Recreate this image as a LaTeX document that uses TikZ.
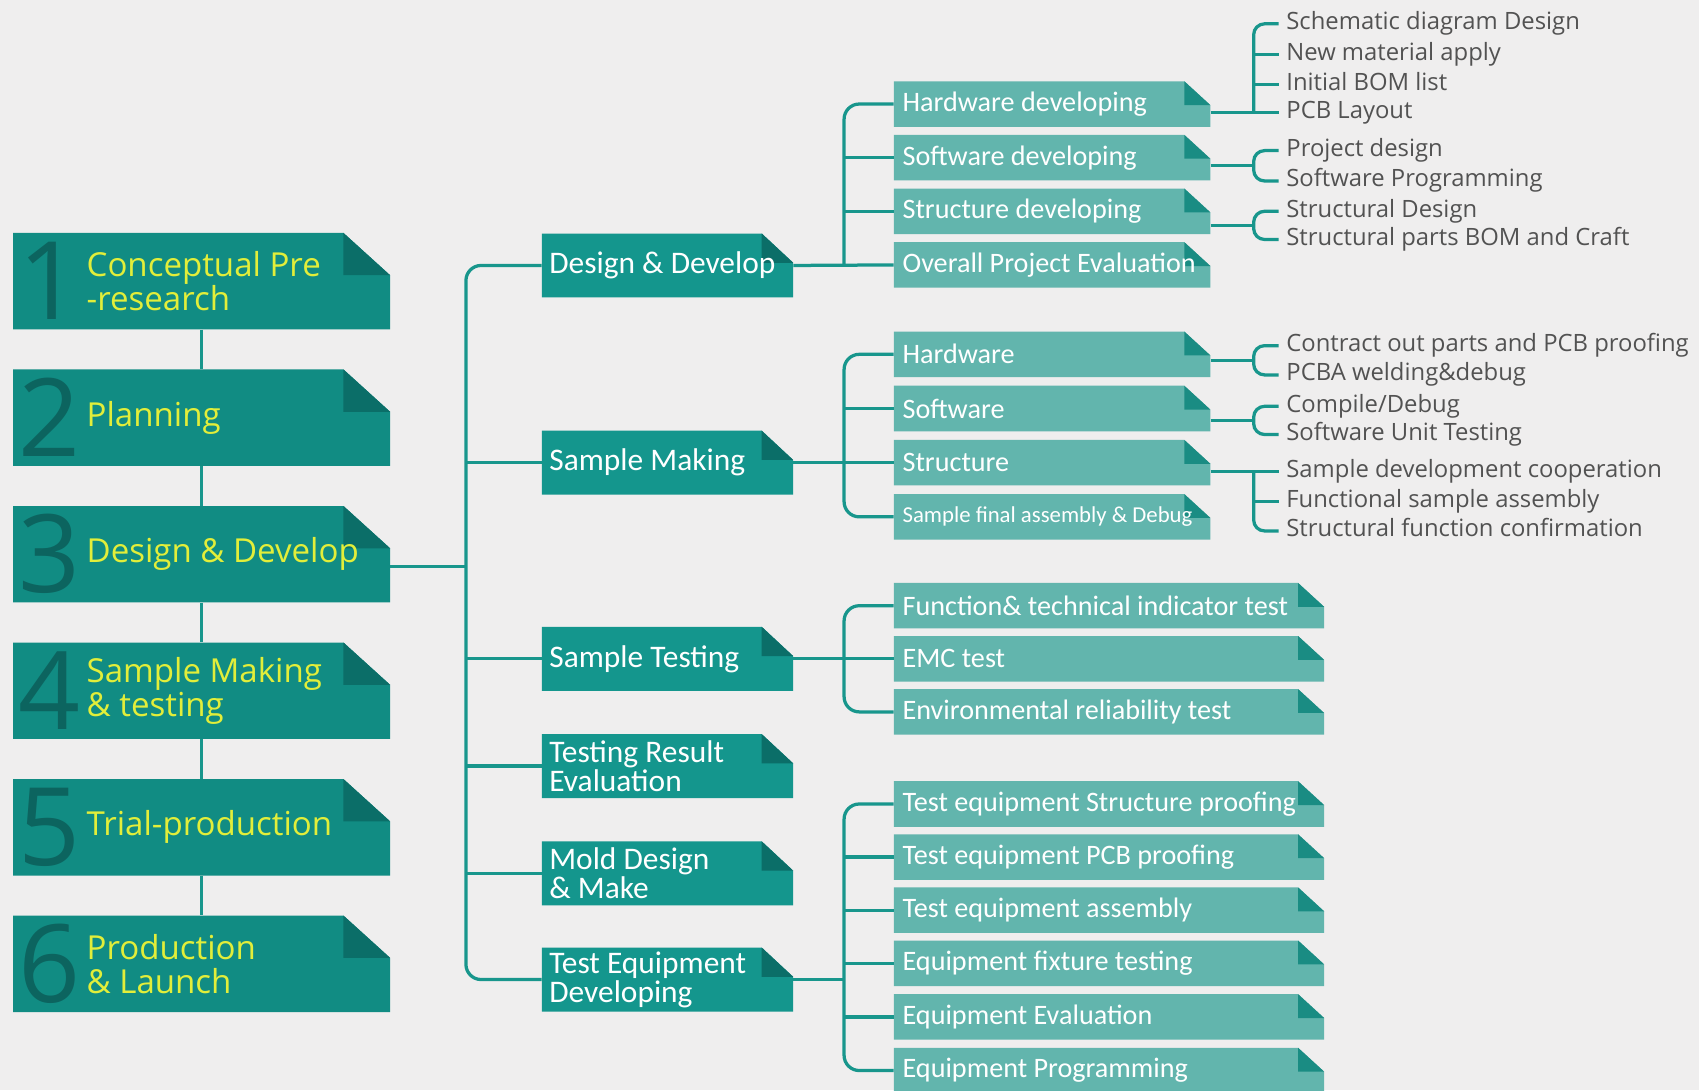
\documentclass[tikz,border=0pt]{standalone}
\usepackage{fontspec}
\setmainfont{Open Sans}
\newfontfamily\boxfont{Carlito}
\usetikzlibrary{calc}

\definecolor{paper}{RGB}{239,238,238}
\definecolor{stageteal}{RGB}{17,140,131}
\definecolor{phaseteal}{RGB}{20,150,141}
\definecolor{foldteal}{RGB}{11,110,104}
\definecolor{digitteal}{RGB}{12,100,95}
\definecolor{taskteal}{RGB}{98,181,173}
\definecolor{taskfold}{RGB}{26,140,131}
\definecolor{stageyellow}{RGB}{226,238,58}
\definecolor{wirecol}{RGB}{24,150,140}
\definecolor{listgray}{RGB}{82,82,82}

\tikzset{
  dogear/.style n args={4}{fill=paper, path picture={
    \fill[#3] (path picture bounding box.south west) |- ([xshift=-#1pt]path picture bounding box.north east)
      -- ([yshift=-#2pt]path picture bounding box.north east) -- (path picture bounding box.south east) -- cycle;
    \fill[#4] ([xshift=-#1pt]path picture bounding box.north east) -- ([xshift=-#1pt,yshift=-#2pt]path picture bounding box.north east)
      -- ([yshift=-#2pt]path picture bounding box.north east) -- cycle;
  }},
  wire/.style={draw=wirecol, line width=3pt},
  stage/.style={minimum width=348pt, minimum height=89pt, inner xsep=5pt, inner ysep=0pt,
    text width=338pt, align=flush left, text=digitteal, font=\fontsize{100}{100}\selectfont,
    dogear={43}{39}{stageteal}{foldteal}},
  stagetext/.style={anchor=west, inner sep=0pt, align=flush left, text=stageyellow, font=\fontsize{30.5}{31.5}\selectfont},
  phase/.style={minimum width=232pt, minimum height=59pt, inner xsep=7pt, inner ysep=0pt,
    text width=218pt, align=flush left, text=white, font=\boxfont\fontsize{29}{27}\selectfont,
    dogear={29}{27}{phaseteal}{foldteal}},
  task/.style={minimum width=292pt, minimum height=42pt, inner xsep=8pt, inner ysep=0pt,
    text width=276pt, align=flush left, text=white, font=\boxfont\fontsize{26}{28}\selectfont,
    dogear={24}{22}{taskteal}{taskfold}},
  widetask/.style={task, minimum width=397pt, text width=381pt},
  detail/.style={anchor=west, inner sep=0pt, text=listgray, text height=16pt, text depth=5pt,
    font=\fontsize{22}{26}\selectfont}
}

\begin{document}
\begin{tikzpicture}[x=1pt,y=-1pt]
  \useasboundingbox (0,0) rectangle (1568,1006);
  \fill[paper] (0,0) rectangle (1568,1006);

  % stages
  \node[stage] (s1) at (186,259.5) {1};
  \node[stage] (s2) at (186,385.5) {2};
  \node[stage] (s3) at (186,511.5) {3};
  \node[stage] (s4) at (186,637.5) {4};
  \node[stage] (s5) at (186,763.5) {5};
  \node[stage] (s6) at (186,889.5) {6};
  \node[stagetext] (n1) at ([xshift=68pt]s1.west) {Conceptual Pre\\-research};
  \node[stagetext] (n2) at ([xshift=68pt]s2.west) {Planning};
  \node[stagetext] (n3) at ([xshift=68pt]s3.west) {Design \& Develop};
  \node[stagetext] (n4) at ([xshift=68pt]s4.west) {Sample Making\\\& testing};
  \node[stagetext] (n5) at ([xshift=68pt]s5.west) {Trial-production};
  \node[stagetext] (n6) at ([xshift=68pt]s6.west) {Production\\\& Launch};

  \draw[wire] (s1) -- (s2);
  \draw[wire] (s2) -- (s3);
  \draw[wire] (s3) -- (s4);
  \draw[wire] (s4) -- (s5);
  \draw[wire] (s5) -- (s6);

  % phases of stage 3
  \node[phase] (dd) at (616,245) {Design \& Develop};
  \node[phase] (sm) at (616,427) {Sample Making};
  \node[phase] (stest) at (616,608) {Sample Testing};
  \node[phase] (tre) at (616,707) {Testing Result\\Evaluation};
  \node[phase] (mold) at (616,806) {Mold Design\\\& Make};
  \node[phase] (ted) at (616,904) {Test Equipment\\Developing};

  \coordinate (trunk) at (430,0);
  \coordinate (s3out) at ([yshift=-11.5pt]s3.east);
  \draw[wire] (s3out) -- (s3out -| trunk);
  \draw[wire, rounded corners=14pt] (dd.west) -- (dd.west -| trunk) -- (ted.west -| trunk) -- (ted.west);
  \draw[wire] (sm.west -| trunk) -- (sm.west);
  \draw[wire] (stest.west -| trunk) -- (stest.west);
  \draw[wire] (tre.west -| trunk) -- (tre.west);
  \draw[wire] (mold.west -| trunk) -- (mold.west);

  % tasks
  \node[task] (hdev) at (971,96) {Hardware developing};
  \node[task] (sdev) at (971,145.5) {Software developing};
  \node[task] (stdev) at (971,195) {Structure developing};
  \node[task] (ope) at (971,244.5) {Overall Project Evaluation};

  \node[task] (shw) at (971,327) {Hardware};
  \node[task] (ssw) at (971,377) {Software};
  \node[task] (sst) at (971,427) {Structure};
  \node[task, font=\boxfont\fontsize{21}{24}\selectfont] (sfa) at (971,477) {Sample final assembly \& Debug};

  \node[widetask] (fti) at (1023.5,559) {Function\& technical indicator test};
  \node[widetask] (emc) at (1023.5,608) {EMC test};
  \node[widetask] (env) at (1023.5,657) {Environmental reliability test};

  \node[widetask] (te1) at (1023.5,742) {Test equipment Structure proofing};
  \node[widetask] (te2) at (1023.5,791) {Test equipment PCB proofing};
  \node[widetask] (te3) at (1023.5,840) {Test equipment assembly};
  \node[widetask] (te4) at (1023.5,889) {Equipment fixture testing};
  \node[widetask] (te5) at (1023.5,938.5) {Equipment Evaluation};
  \node[widetask] (te6) at (1023.5,988) {Equipment Programming};

  \coordinate (bus) at (779,0);
  \draw[wire] (dd.east) -- (ope.west);
  \draw[wire, rounded corners=14pt] (dd.east -| bus) -- (hdev.west -| bus) -- (hdev.west);
  \draw[wire] (sdev.west -| bus) -- (sdev.west);
  \draw[wire] (stdev.west -| bus) -- (stdev.west);

  \draw[wire] (sm.east) -- (sst.west);
  \draw[wire, rounded corners=14pt] (shw.west) -- (shw.west -| bus) -- (sfa.west -| bus) -- (sfa.west);
  \draw[wire] (ssw.west -| bus) -- (ssw.west);

  \draw[wire] (stest.east) -- (emc.west);
  \draw[wire, rounded corners=14pt] (fti.west) -- (fti.west -| bus) -- (env.west -| bus) -- (env.west);

  \draw[wire] (ted.east) -- (ted.east -| bus);
  \draw[wire, rounded corners=14pt] (te1.west) -- (te1.west -| bus) -- (te6.west -| bus) -- (te6.west);
  \draw[wire] (te2.west -| bus) -- (te2.west);
  \draw[wire] (te3.west -| bus) -- (te3.west);
  \draw[wire] (te4.west -| bus) -- (te4.west);
  \draw[wire] (te5.west -| bus) -- (te5.west);

  % details
  \node[detail] (hd1) at (1187,22) {Schematic diagram Design};
  \node[detail] (hd2) at (1187,50) {New material apply};
  \node[detail] (hd3) at (1187,78) {Initial BOM list};
  \node[detail] (hd4) at (1187,104) {PCB Layout};
  \node[detail] (sd1) at (1187,139) {Project design};
  \node[detail] (sd2) at (1187,167) {Software Programming};
  \node[detail] (td1) at (1187,195) {Structural Design};
  \node[detail] (td2) at (1187,221) {Structural parts BOM and Craft};

  \node[detail] (hw1) at (1187,319) {Contract out parts and PCB proofing};
  \node[detail] (hw2) at (1187,346) {PCBA welding\&debug};
  \node[detail] (sw1) at (1187,375) {Compile/Debug};
  \node[detail] (sw2) at (1187,401) {Software Unit Testing};
  \node[detail] (sc1) at (1187,435) {Sample development cooperation};
  \node[detail] (sc2) at (1187,463) {Functional sample assembly};
  \node[detail] (sc3) at (1187,490) {Structural function confirmation};

  \coordinate (rail) at (1157,0);
  \draw[wire, rounded corners=10pt] ([xshift=-7pt]hd1.west) -- (hd1.west -| rail) -- (hd4.west -| rail);
  \draw[wire] (hdev.east |- hd4.west) -- ([xshift=-7pt]hd4.west);
  \draw[wire] (hd2.west -| rail) -- ([xshift=-7pt]hd2.west);
  \draw[wire] (hd3.west -| rail) -- ([xshift=-7pt]hd3.west);

  \coordinate (sdm) at ($(sd1.west)!.5!(sd2.west)$);
  \draw[wire, rounded corners=10pt] ([xshift=-7pt]sd1.west) -- (sd1.west -| rail) -- (sd2.west -| rail) -- ([xshift=-7pt]sd2.west);
  \draw[wire] (sdev.east |- sdm) -- (sdm -| rail);

  \coordinate (tdm) at ($(td1.west)!.5!(td2.west)$);
  \draw[wire, rounded corners=10pt] ([xshift=-7pt]td1.west) -- (td1.west -| rail) -- (td2.west -| rail) -- ([xshift=-7pt]td2.west);
  \draw[wire] (stdev.east |- tdm) -- (tdm -| rail);

  \coordinate (hwm) at ($(hw1.west)!.5!(hw2.west)$);
  \draw[wire, rounded corners=10pt] ([xshift=-7pt]hw1.west) -- (hw1.west -| rail) -- (hw2.west -| rail) -- ([xshift=-7pt]hw2.west);
  \draw[wire] (shw.east |- hwm) -- (hwm -| rail);

  \coordinate (swm) at ($(sw1.west)!.5!(sw2.west)$);
  \draw[wire, rounded corners=10pt] ([xshift=-7pt]sw1.west) -- (sw1.west -| rail) -- (sw2.west -| rail) -- ([xshift=-7pt]sw2.west);
  \draw[wire] (ssw.east |- swm) -- (swm -| rail);

  \draw[wire] (sst.east |- sc1.west) -- ([xshift=-7pt]sc1.west);
  \draw[wire, rounded corners=10pt] (sc1.west -| rail) -- (sc3.west -| rail) -- ([xshift=-7pt]sc3.west);
  \draw[wire] (sc2.west -| rail) -- ([xshift=-7pt]sc2.west);
\end{tikzpicture}
\end{document}
